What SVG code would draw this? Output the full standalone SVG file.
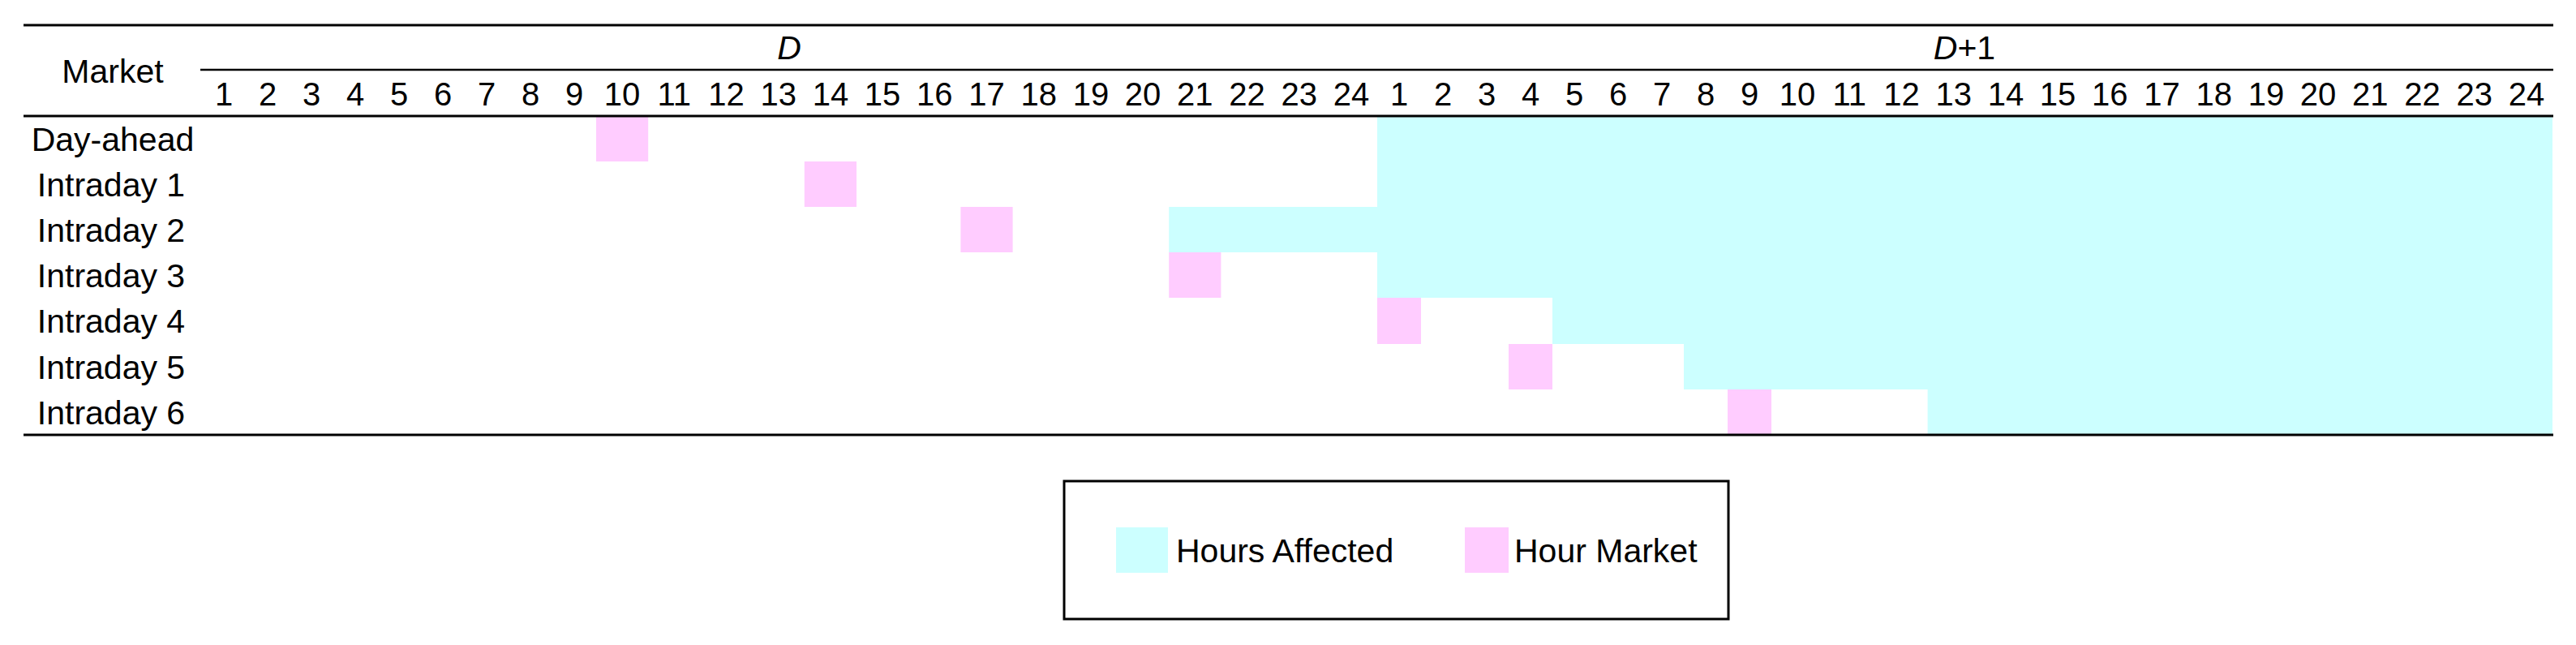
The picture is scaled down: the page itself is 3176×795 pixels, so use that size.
<svg xmlns="http://www.w3.org/2000/svg" width="3176" height="795" viewBox="0 0 3176 795">
<style>
text{font-family:"Liberation Sans",Arial,sans-serif;font-size:41px;fill:#000}
.n{font-size:40px;text-anchor:middle}
.lbl{text-anchor:middle}
.it{font-style:italic;text-anchor:middle}
.rule{stroke:#000;stroke-width:3;fill:none}
.rule2{stroke:#000;stroke-width:2.5;fill:none}
.cy{fill:#CCFFFF}
.pk{fill:#FFCCFF}
</style>
<rect width="3176" height="795" fill="#fff"/>
<g id="cells">
<rect class="cy" x="1698" y="143" width="1449" height="56"/>
<rect class="cy" x="1698" y="199" width="1449" height="56"/>
<rect class="cy" x="1441.2" y="255" width="1705.8" height="56"/>
<rect class="cy" x="1698" y="311" width="1449" height="56"/>
<rect class="cy" x="1914" y="367" width="1233" height="57"/>
<rect class="cy" x="2076" y="424" width="1071" height="56"/>
<rect class="cy" x="2376.6" y="480" width="770.4" height="56"/>
<rect class="pk" x="735" y="143" width="64.2" height="56"/>
<rect class="pk" x="991.8" y="199" width="64.2" height="56"/>
<rect class="pk" x="1184.4" y="255" width="64.2" height="56"/>
<rect class="pk" x="1441.2" y="311" width="64.2" height="56"/>
<rect class="pk" x="1698" y="367" width="54" height="57"/>
<rect class="pk" x="1860" y="424" width="54" height="56"/>
<rect class="pk" x="2130" y="480" width="54" height="56"/>
</g>
<g id="rules">
<line class="rule" x1="29" y1="31" x2="3148" y2="31"/>
<line class="rule2" x1="247" y1="86" x2="3148" y2="86"/>
<line class="rule" x1="29" y1="143" x2="3148" y2="143"/>
<line class="rule" x1="29" y1="536" x2="3148" y2="536"/>
</g>
<g id="header">
<text class="lbl" x="139" y="102">Market</text>
<text class="it" x="973" y="73">D</text>
<text class="lbl" x="2422" y="73"><tspan font-style="italic">D</tspan>+1</text>
<text class="n" x="276" y="130">1</text>
<text class="n" x="330" y="130">2</text>
<text class="n" x="384" y="130">3</text>
<text class="n" x="438" y="130">4</text>
<text class="n" x="492" y="130">5</text>
<text class="n" x="546" y="130">6</text>
<text class="n" x="600" y="130">7</text>
<text class="n" x="654" y="130">8</text>
<text class="n" x="708" y="130">9</text>
<text class="n" x="767.1" y="130">10</text>
<text class="n" x="831.3" y="130">11</text>
<text class="n" x="895.5" y="130">12</text>
<text class="n" x="959.7" y="130">13</text>
<text class="n" x="1023.9" y="130">14</text>
<text class="n" x="1088.1" y="130">15</text>
<text class="n" x="1152.3" y="130">16</text>
<text class="n" x="1216.5" y="130">17</text>
<text class="n" x="1280.7" y="130">18</text>
<text class="n" x="1344.9" y="130">19</text>
<text class="n" x="1409.1" y="130">20</text>
<text class="n" x="1473.3" y="130">21</text>
<text class="n" x="1537.5" y="130">22</text>
<text class="n" x="1601.7" y="130">23</text>
<text class="n" x="1665.9" y="130">24</text>
<text class="n" x="1725" y="130">1</text>
<text class="n" x="1779" y="130">2</text>
<text class="n" x="1833" y="130">3</text>
<text class="n" x="1887" y="130">4</text>
<text class="n" x="1941" y="130">5</text>
<text class="n" x="1995" y="130">6</text>
<text class="n" x="2049" y="130">7</text>
<text class="n" x="2103" y="130">8</text>
<text class="n" x="2157" y="130">9</text>
<text class="n" x="2216.1" y="130">10</text>
<text class="n" x="2280.3" y="130">11</text>
<text class="n" x="2344.5" y="130">12</text>
<text class="n" x="2408.7" y="130">13</text>
<text class="n" x="2472.9" y="130">14</text>
<text class="n" x="2537.1" y="130">15</text>
<text class="n" x="2601.3" y="130">16</text>
<text class="n" x="2665.5" y="130">17</text>
<text class="n" x="2729.7" y="130">18</text>
<text class="n" x="2793.9" y="130">19</text>
<text class="n" x="2858.1" y="130">20</text>
<text class="n" x="2922.3" y="130">21</text>
<text class="n" x="2986.5" y="130">22</text>
<text class="n" x="3050.7" y="130">23</text>
<text class="n" x="3114.9" y="130">24</text>
</g>
<g id="row-day-ahead"><text class="lbl" x="139" y="186">Day-ahead</text></g>
<g id="row-intraday-1"><text class="lbl" x="137" y="242">Intraday 1</text></g>
<g id="row-intraday-2"><text class="lbl" x="137" y="298">Intraday 2</text></g>
<g id="row-intraday-3"><text class="lbl" x="137" y="354">Intraday 3</text></g>
<g id="row-intraday-4"><text class="lbl" x="137" y="410">Intraday 4</text></g>
<g id="row-intraday-5"><text class="lbl" x="137" y="467">Intraday 5</text></g>
<g id="row-intraday-6"><text class="lbl" x="137" y="523">Intraday 6</text></g>
<g id="legend">
<rect x="1312" y="593" width="819" height="170" fill="#fff" stroke="#000" stroke-width="3"/>
<rect class="cy" x="1376" y="650" width="64" height="56"/>
<text x="1450" y="693">Hours Affected</text>
<rect class="pk" x="1806" y="650" width="54" height="56"/>
<text x="1867" y="693">Hour Market</text>
</g>
</svg>
